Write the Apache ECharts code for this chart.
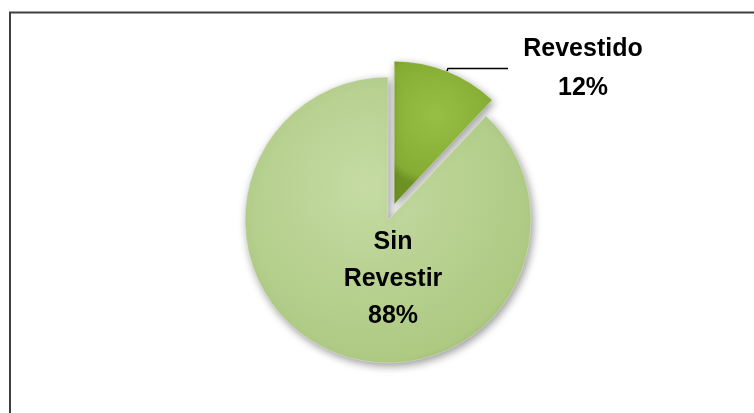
<!DOCTYPE html>
<html>
<head>
<meta charset="utf-8">
<script src="https://cdn.jsdelivr.net/npm/echarts@6/dist/echarts.min.js"></script>
<style>
  html, body { margin: 0; padding: 0; background: #ffffff; }
  #chart { width: 754px; height: 413px; }
</style>
</head>
<body>
<div id="chart"></div>
<script>
// Share of surfaces by finish type (percent)
const categories = ['Revestido', 'Sin Revestir'];
const shares = [12, 88];

const FONT = "'Liberation Sans Narrow', 'Arial Narrow', 'Liberation Sans', Arial, sans-serif";

function shade(inner, outer, rim) {
  return {
    type: 'radial', x: 0.42, y: 0.38, r: 0.72,
    colorStops: [
      { offset: 0, color: inner },
      { offset: 0.86, color: outer },
      { offset: 1, color: rim }
    ]
  };
}

const fills = [
  shade('#98bf45', '#86ad33', '#6e9324'),
  shade('#c5dba3', '#adc982', '#93b16a')
];

const textStyle = {
  fontFamily: FONT, fontWeight: 'bold', fontSize: 25,
  color: '#000', align: 'center'
};

const pieData = categories.map((name, i) => {
  const item = {
    name: name,
    value: shares[i],
    itemStyle: { color: fills[i] }
  };
  if (i === 0) {
    item.selected = true;
    item.label = {
      position: 'outside',
      formatter: '{t|{b}}\n{t|{c}%}',
      rich: { t: Object.assign({ width: 140, lineHeight: 39 }, textStyle) }
    };
    item.labelLine = { show: true, length: 3, length2: 60, smooth: false,
      lineStyle: { color: '#000', width: 1.5 } };
  } else {
    // label sits below the pie centre: an empty spacer line pushes it down
    item.label = {
      position: 'center',
      formatter: '{s| }\n' + name.split(' ').map(w => '{t|' + w + '}').join('\n') + '\n{t|{c}%}',
      rich: {
        s: { lineHeight: 118, fontSize: 10 },
        t: Object.assign({ lineHeight: 37, width: 130, padding: [0, 0, 0, 10] }, textStyle)
      }
    };
    item.labelLine = { show: false };
  }
  return item;
});

const chart = echarts.init(document.getElementById('chart'), null, { renderer: 'canvas' });
chart.setOption({
  animation: false,
  backgroundColor: '#ffffff',
  graphic: [{
    type: 'rect',
    shape: { x: 10, y: 12.5, width: 800, height: 460 },
    style: { fill: 'none', stroke: '#3f3f3f', lineWidth: 2 },
    silent: true
  }],
  series: [{
    type: 'pie',
    center: [388, 220],
    radius: 143,
    startAngle: 90,
    clockwise: true,
    selectedMode: 'single',
    selectedOffset: 17,
    avoidLabelOverlap: false,
    emphasis: { disabled: true },
    itemStyle: {
      borderColor: 'rgba(255,255,255,0.3)', borderWidth: 1,
      shadowBlur: 8, shadowColor: 'rgba(0,0,0,0.4)',
      shadowOffsetX: 2, shadowOffsetY: 3
    },
    data: pieData
  }]
});
</script>
</body>
</html>
